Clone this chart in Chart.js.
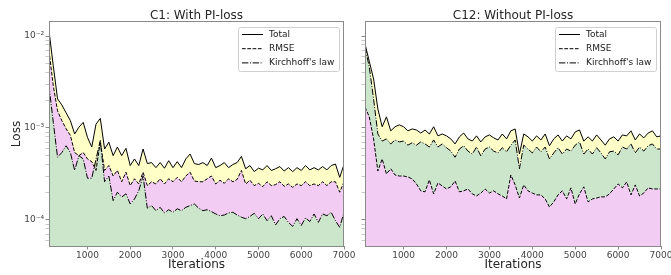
<!DOCTYPE html>
<html><head><meta charset="utf-8">
<script src="https://cdn.jsdelivr.net/npm/chart.js@4.4.1/dist/chart.umd.min.js"></script>
<style>
html,body{margin:0;padding:0;background:#fff;}
body{width:671px;height:275px;position:relative;overflow:hidden;}
#w1{position:absolute;left:0;top:0;width:360px;height:275px;}
#w2{position:absolute;left:355px;top:0;width:316px;height:275px;}
</style></head><body>
<div id="w1"><canvas id="c1"></canvas></div>
<div id="w2"><canvas id="c2"></canvas></div>
<script>
const iterations = [100,200,300,400,500,600,700,800,900,1000,1100,1200,1300,1400,1500,1600,1700,1800,1900,2000,
2100,2200,2300,2400,2500,2600,2700,2800,2900,3000,3100,3200,3300,3400,3500,3600,3700,3800,3900,4000,
4100,4200,4300,4400,4500,4600,4700,4800,4900,5000,5100,5200,5300,5400,5500,5600,5700,5800,5900,6000,
6100,6200,6300,6400,6500,6600,6700,6800,6900,7000];

const seriesNames = ['Total', 'RMSE', "Kirchhoff's law"];
const panelTitles = ['C1: With PI-loss', 'C12: Without PI-loss'];

const c1Total = [1.14e-2,4.75e-3,2.07e-3,1.78e-3,1.46e-3,1.20e-3,8.6e-4,1.02e-3,1.15e-3,7.9e-4,
6.2e-4,1.10e-3,1.27e-3,5.9e-4,7.0e-4,5.0e-4,6.2e-4,5.0e-4,6.0e-4,3.9e-4,
4.6e-4,3.9e-4,5.9e-4,4.1e-4,4.2e-4,3.7e-4,4.2e-4,3.65e-4,4.4e-4,3.7e-4,
4.3e-4,3.7e-4,4.6e-4,5.2e-4,4.1e-4,4.0e-4,4.2e-4,3.9e-4,4.7e-4,3.7e-4,
3.9e-4,4.2e-4,3.7e-4,4.0e-4,4.2e-4,4.9e-4,3.6e-4,3.9e-4,3.35e-4,3.65e-4,
3.5e-4,3.9e-4,3.45e-4,3.6e-4,3.8e-4,3.4e-4,3.7e-4,3.35e-4,3.7e-4,3.45e-4,
3.9e-4,3.5e-4,3.7e-4,3.5e-4,3.8e-4,3.5e-4,3.9e-4,4.05e-4,2.9e-4,4.0e-4];

const c1RMSE = [6.9e-3,2.88e-3,1.54e-3,1.2e-3,9.8e-4,8.3e-4,5.4e-4,5.0e-4,5.4e-4,4.6e-4,
4.3e-4,3.45e-4,7.1e-4,3.45e-4,3.9e-4,3.0e-4,3.45e-4,2.6e-4,3.3e-4,2.36e-4,
2.8e-4,2.46e-4,3.3e-4,2.36e-4,2.6e-4,2.46e-4,2.8e-4,2.46e-4,2.8e-4,2.6e-4,
2.9e-4,2.6e-4,3.0e-4,3.3e-4,2.65e-4,2.6e-4,2.6e-4,2.8e-4,3.0e-4,2.46e-4,
2.7e-4,2.5e-4,2.8e-4,2.6e-4,2.75e-4,3.45e-4,2.46e-4,2.7e-4,2.36e-4,2.5e-4,
2.3e-4,2.6e-4,2.36e-4,2.42e-4,2.6e-4,2.32e-4,2.46e-4,2.26e-4,2.46e-4,2.36e-4,
2.6e-4,2.36e-4,2.46e-4,2.36e-4,2.6e-4,2.36e-4,2.6e-4,2.6e-4,2.0e-4,2.6e-4];

const c1Kirchhoff = [2.88e-3,1.15e-3,4.8e-4,5.4e-4,6.4e-4,5.4e-4,3.45e-4,5.0e-4,4.6e-4,2.84e-4,
2.84e-4,4.6e-4,7.3e-4,2.6e-4,3.0e-4,1.62e-4,2.0e-4,1.77e-4,1.92e-4,1.49e-4,
1.69e-4,2.08e-4,3.0e-4,1.34e-4,1.43e-4,1.26e-4,1.37e-4,1.19e-4,1.29e-4,1.21e-4,
1.32e-4,1.26e-4,1.37e-4,1.43e-4,1.49e-4,1.34e-4,1.26e-4,1.29e-4,1.23e-4,1.16e-4,
1.11e-4,1.13e-4,1.19e-4,1.21e-4,1.13e-4,1.07e-4,1.03e-4,1.09e-4,1.18e-4,1.03e-4,
1.16e-4,0.98e-4,1.11e-4,0.88e-4,1.03e-4,1.09e-4,0.94e-4,0.85e-4,1.03e-4,0.87e-4,
1.05e-4,0.96e-4,1.16e-4,0.94e-4,1.16e-4,1.11e-4,1.21e-4,0.98e-4,0.83e-4,1.21e-4];

const c12Total = [8.2e-3,5.3e-3,3.41e-3,1.61e-3,1.03e-3,1.32e-3,9.3e-4,1.03e-3,1.08e-3,1.03e-3,
9.3e-4,9.75e-4,9.5e-4,8.8e-4,9.5e-4,8.6e-4,1.03e-3,8.2e-4,8.6e-4,8.2e-4,
7.6e-4,6.7e-4,8.0e-4,8.8e-4,7.6e-4,7.2e-4,8.2e-4,7.05e-4,8.0e-4,8.4e-4,
7.8e-4,7.4e-4,8.6e-4,7.6e-4,9.3e-4,9.75e-4,5.2e-4,8.6e-4,8.0e-4,7.2e-4,
8.2e-4,7.4e-4,8.6e-4,6.4e-4,7.6e-4,8.4e-4,7.2e-4,8.2e-4,7.6e-4,9.05e-4,
9.5e-4,7.2e-4,8.0e-4,7.2e-4,8.4e-4,7.4e-4,6.5e-4,7.6e-4,8.0e-4,7.2e-4,
8.4e-4,8.2e-4,9.3e-4,7.4e-4,8.6e-4,7.8e-4,8.8e-4,9.3e-4,8.0e-4,8.2e-4];

const c12RMSE = [1.69e-3,1.32e-3,7.6e-4,3.4e-4,4.6e-4,3.16e-4,3.6e-4,3.08e-4,3.0e-4,3.0e-4,
2.93e-4,2.79e-4,2.46e-4,2.07e-4,2.02e-4,2.72e-4,1.92e-4,2.52e-4,2.34e-4,2.17e-4,
2.29e-4,2.65e-4,2.02e-4,2.07e-4,2.17e-4,1.92e-4,1.82e-4,1.96e-4,2.17e-4,1.96e-4,
2.07e-4,1.92e-4,1.82e-4,1.69e-4,3.08e-4,2.4e-4,1.73e-4,2.4e-4,2.07e-4,1.96e-4,
1.87e-4,1.87e-4,1.69e-4,1.38e-4,1.57e-4,1.87e-4,2.07e-4,1.69e-4,2.23e-4,1.49e-4,
1.92e-4,2.29e-4,1.57e-4,1.69e-4,1.73e-4,1.78e-4,1.78e-4,1.92e-4,2.17e-4,2.46e-4,
2.23e-4,2.59e-4,1.87e-4,2.4e-4,1.82e-4,1.96e-4,2.23e-4,2.17e-4,2.17e-4,2.17e-4];

const c12Kirchhoff = [7.6e-3,4.6e-3,2.07e-3,8.6e-4,7.2e-4,7.6e-4,6.7e-4,7.4e-4,7.05e-4,7.2e-4,
6.5e-4,6.9e-4,6.5e-4,7.05e-4,6.7e-4,6.2e-4,7.4e-4,6.2e-4,6.7e-4,6.1e-4,
5.6e-4,4.8e-4,5.9e-4,6.4e-4,5.6e-4,5.2e-4,6.2e-4,4.96e-4,5.9e-4,6.2e-4,
5.6e-4,5.35e-4,6.1e-4,5.5e-4,6.5e-4,7.4e-4,3.6e-4,6.5e-4,5.9e-4,5.35e-4,
6.2e-4,5.5e-4,6.2e-4,4.6e-4,5.35e-4,6.1e-4,5.2e-4,5.9e-4,5.6e-4,6.5e-4,
7.05e-4,5.2e-4,5.9e-4,5.2e-4,6.1e-4,5.35e-4,4.6e-4,5.5e-4,5.6e-4,5.1e-4,
6.2e-4,5.9e-4,6.7e-4,5.35e-4,6.2e-4,5.6e-4,6.4e-4,6.7e-4,5.9e-4,5.9e-4];

const xTicks = [1000,2000,3000,4000,5000,6000,7000];
const yMajorTicks = [1e-4,1e-3,1e-2];
const yMajorLabels = ['10\u207B\u2074','10\u207B\u00B3','10\u207B\u00B2'];
const yMin = 5.2e-5, yMax = 1.42e-2;

const FONT = "'DejaVu Sans', sans-serif";
const GREEN = 'rgba(0,128,0,0.2)';
const PINK = 'rgba(191,0,191,0.2)';
const YELLOW = 'rgba(255,255,0,0.22)';
const DASH = [3.7,1.6];
const DASHDOT = [6.4,1.6,1,1.6];

function pts(arr){ return iterations.map((x,i)=>({x:x, y:arr[i]})); }

function yTickList(){
  const out = [];
  for (let e=-5; e<=-2; e++){
    for (let m=1; m<=9; m++){
      const v = m*Math.pow(10,e);
      if (v>=yMin && v<=yMax) out.push(v);
    }
  }
  return out;
}
function isMajor(v){ return yMajorTicks.some(t=>Math.abs(v/t-1)<1e-6); }

const framePlugin = {
  id:'frame',
  afterDraw(chart){
    const a = chart.chartArea, ctx = chart.ctx;
    ctx.save();
    ctx.strokeStyle = '#8a8a8a'; ctx.lineWidth = 1;
    ctx.strokeRect(Math.round(a.left)+0.5, Math.round(a.top)-0.5, Math.round(a.right-a.left)-1, Math.round(a.bottom-a.top)+1);
    ctx.restore();
  }
};

const titleLegendPlugin = {
  id:'titleLegend',
  afterDraw(chart, args, opts){
    const a = chart.chartArea, ctx = chart.ctx;
    ctx.save();
    ctx.fillStyle = '#262626';
    ctx.font = '12px ' + FONT;
    ctx.textAlign = 'center'; ctx.textBaseline = 'alphabetic';
    ctx.fillText(opts.title, (a.left+a.right)/2, 19);
    const bw = 101, bh = 44;
    const bx = a.right - 5 - bw, by = a.top + 5;
    ctx.fillStyle = 'rgba(255,255,255,0.85)';
    ctx.strokeStyle = '#d0d0d0'; ctx.lineWidth = 1;
    ctx.beginPath();
    if (ctx.roundRect) ctx.roundRect(bx+0.5, by+0.5, bw, bh, 2); else ctx.rect(bx+0.5, by+0.5, bw, bh);
    ctx.fill(); ctx.stroke();
    ctx.font = '9px ' + FONT;
    ctx.textAlign = 'left'; ctx.textBaseline = 'middle';
    opts.items.forEach((it, i) => {
      const y = by + 7.5 + i*14.2;
      ctx.strokeStyle = '#000'; ctx.lineWidth = 1;
      ctx.setLineDash(it.dash);
      ctx.beginPath(); ctx.moveTo(bx+4, y); ctx.lineTo(bx+25, y); ctx.stroke();
      ctx.setLineDash([]);
      ctx.fillStyle = '#1a1a1a';
      ctx.fillText(it.label, bx+31, y);
    });
    ctx.restore();
  }
};

function makeOptions(showY, padRight, yWidth, title){
  return {
    responsive:true, maintainAspectRatio:false, animation:false, devicePixelRatio:1,
    layout:{padding:{left:0, top:22, right:padRight, bottom:0}},
    elements:{point:{radius:0, hoverRadius:0}, line:{tension:0, borderWidth:1}},
    plugins:{
      legend:{display:false}, tooltip:{enabled:false}, title:{display:false},
      filler:{propagate:false, drawTime:'beforeDatasetsDraw'},
      titleLegend:{title:title, items:[
        {label:seriesNames[0], dash:[]},
        {label:seriesNames[1], dash:DASH},
        {label:seriesNames[2], dash:DASHDOT}]}
    },
    scales:{
      x:{
        type:'linear', min:100, max:7000,
        afterBuildTicks(s){ s.ticks = xTicks.map(v=>({value:v})); },
        afterFit(s){ s.height = 29; s.paddingLeft = 0; s.paddingRight = 0; },
        grid:{drawOnChartArea:false, drawTicks:true, tickLength:3.5, tickColor:'#8a8a8a', tickWidth:1},
        border:{display:false},
        ticks:{autoSkip:false, maxRotation:0, padding:1, color:'#444', font:{family:FONT, size:9},
          callback:(v)=>String(v)},
        title:{display:true, text:'Iterations', color:'#262626', font:{family:FONT, size:12, lineHeight:1.2}, padding:{top:0, bottom:3}}
      },
      y:{
        type:'logarithmic', min:yMin, max:yMax,
        afterBuildTicks(s){ s.ticks = yTickList().map(v=>({value:v, major:isMajor(v)})); },
        afterFit(s){ s.width = yWidth; s.paddingTop = 0; s.paddingBottom = 0; },
        grid:{drawOnChartArea:false, drawTicks:true, tickLength:3.5,
          tickColor:(c)=> (c.tick && isMajor(c.tick.value)) ? '#8a8a8a' : '#b0b0b0',
          tickWidth:(c)=> (c.tick && isMajor(c.tick.value)) ? 1 : 0.7},
        border:{display:false},
        ticks:{autoSkip:false, padding:1.5, color:'#444', font:{family:FONT, size:9},
          callback:(v)=>{ if(!showY) return ''; const i = yMajorTicks.findIndex(t=>Math.abs(v/t-1)<1e-6); return i>=0 ? yMajorLabels[i] : ''; }},
        title:{display:showY, text:'Loss', color:'#262626', font:{family:FONT, size:12, lineHeight:1.2}, padding:{top:10, bottom:0}}
      }
    }
  };
}

new Chart(document.getElementById('c1'), {
  type:'line',
  data:{datasets:[
    {label:seriesNames[2], data:pts(c1Kirchhoff), borderColor:'#000', borderDash:DASHDOT, backgroundColor:GREEN, fill:'start'},
    {label:seriesNames[1], data:pts(c1RMSE), borderColor:'#000', borderDash:DASH, backgroundColor:PINK, fill:0},
    {label:seriesNames[0], data:pts(c1Total), borderColor:'#000', backgroundColor:YELLOW, fill:1}
  ]},
  options:makeOptions(true, 16, 49, panelTitles[0]),
  plugins:[framePlugin, titleLegendPlugin]
});

new Chart(document.getElementById('c2'), {
  type:'line',
  data:{datasets:[
    {label:seriesNames[1], data:pts(c12RMSE), borderColor:'#000', borderDash:DASH, backgroundColor:PINK, fill:'start'},
    {label:seriesNames[2], data:pts(c12Kirchhoff), borderColor:'#000', borderDash:DASHDOT, backgroundColor:GREEN, fill:0},
    {label:seriesNames[0], data:pts(c12Total), borderColor:'#000', backgroundColor:YELLOW, fill:1}
  ]},
  options:makeOptions(false, 10, 10, panelTitles[1]),
  plugins:[framePlugin, titleLegendPlugin]
});
</script>
</body></html>
